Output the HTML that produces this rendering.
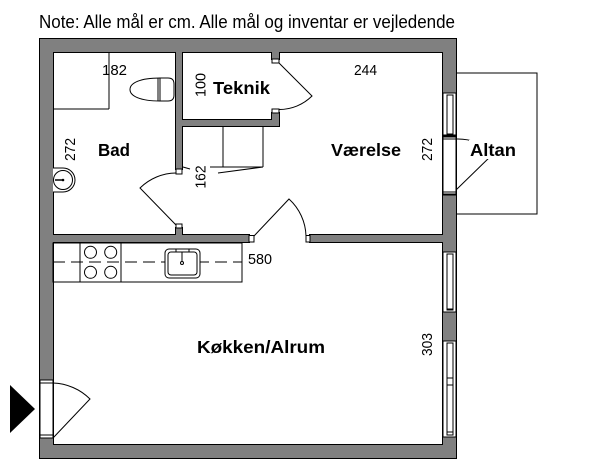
<!DOCTYPE html>
<html>
<head>
<meta charset="utf-8">
<style>
  html, body { margin: 0; padding: 0; background: #fff; }
  body { width: 600px; height: 472px; overflow: hidden; }
  svg { display: block; }
  text { font-family: "Liberation Sans", sans-serif; fill: #000; }
  .b { font-weight: bold; }
</style>
</head>
<body>
<svg width="600" height="472" viewBox="0 0 600 472" xmlns="http://www.w3.org/2000/svg">
  <!-- Title -->
  <text x="39" y="28" font-size="18" textLength="416" lengthAdjust="spacingAndGlyphs">Note: Alle mål er cm. Alle mål og inventar er vejledende</text>

  <!-- Altan rectangle -->
  <rect x="456" y="73" width="81" height="141" fill="none" stroke="#000" stroke-width="1"/>

  <!-- WALLS: stroke layer -->
  <g stroke="#000" stroke-width="2" fill="none">
    <path d="M40,39 H456 V458 H40 Z M53,52 V445 H443 V52 Z"/>
    <rect x="176" y="50" width="6" height="119"/>
    <rect x="176" y="228" width="6" height="10"/>
    <rect x="180" y="120" width="99" height="6"/>
    <rect x="272" y="50" width="7" height="9"/>
    <rect x="272" y="113" width="7" height="13"/>
    <rect x="50" y="235" width="199" height="7"/>
    <rect x="310" y="235" width="136" height="7"/>
  </g>
  <!-- WALLS: fill layer -->
  <g fill="#808080" stroke="none">
    <path fill-rule="evenodd" d="M40,39 H456 V458 H40 Z M53,52 V445 H443 V52 Z"/>
    <rect x="176" y="50" width="6" height="119"/>
    <rect x="176" y="228" width="6" height="10"/>
    <rect x="180" y="120" width="99" height="6"/>
    <rect x="272" y="50" width="7" height="9"/>
    <rect x="272" y="113" width="7" height="13"/>
    <rect x="50" y="235" width="199" height="7"/>
    <rect x="310" y="235" width="136" height="7"/>
  </g>

  <!-- Door jambs -->
  <g fill="#fff" stroke="#000" stroke-width="1">
    <rect x="176" y="169" width="6" height="5"/>
    <rect x="176" y="224" width="6" height="4"/>
    <rect x="272" y="59" width="7" height="4"/>
    <rect x="272" y="109" width="7" height="4"/>
    <rect x="249" y="235.5" width="5" height="6.5"/>
    <rect x="306" y="235.5" width="4" height="6.5"/>
  </g>

  <!-- Right wall: Værelse window -->
  <g stroke="#000" fill="#fff" stroke-width="1">
    <rect x="443" y="93" width="13" height="43"/>
    <rect x="447" y="95" width="6" height="39" fill="none"/>
    <line x1="443" y1="135.5" x2="456" y2="135.5" stroke-width="2"/>
    <!-- Altan door opening -->
    <rect x="443" y="137" width="13" height="57"/>
    <line x1="443" y1="139" x2="456" y2="139"/>
    <line x1="443" y1="192" x2="456" y2="192"/>
    <line x1="443" y1="194.5" x2="456" y2="194.5" stroke-width="2"/>
    <!-- Kitchen window 1 -->
    <rect x="443" y="252" width="13" height="60"/>
    <rect x="447" y="254" width="6" height="56" fill="none"/>
    <line x1="447" y1="309" x2="453" y2="309"/>
    <!-- Kitchen window 2 -->
    <rect x="443" y="341" width="13" height="96"/>
    <rect x="447" y="343" width="6" height="92" fill="none"/>
    <line x1="447" y1="378" x2="453" y2="378"/>
    <line x1="447" y1="385" x2="453" y2="385"/>
    <line x1="447" y1="432" x2="453" y2="432"/>
    <!-- Entrance opening -->
    <rect x="40" y="380" width="13" height="58"/>
    <line x1="40" y1="383" x2="53" y2="383"/>
    <line x1="40" y1="435" x2="53" y2="435"/>
  </g>

  <!-- Doors -->
  <g stroke="#000" fill="none" stroke-width="1">
    <!-- Bad door -->
    <path d="M176,225 L140,188 A52,52 0 0 1 176,173"/>
    <!-- Teknik door -->
    <path d="M279,63 L312,96 A46.5,46.5 0 0 1 279,109.5"/>
    <!-- Værelse door -->
    <path d="M254,236 L289,199 A52,52 0 0 1 306,236"/>
    <!-- Entrance door -->
    <path d="M53,438 L90,399 A55,55 0 0 0 53,383"/>
    <!-- Altan door -->
    <path d="M456,190 L494,153 A53,53 0 0 0 456,139"/>
  </g>

  <!-- Entrance triangle -->
  <polygon points="10,385 10,433 35,409" fill="#000"/>

  <!-- Bad fixtures -->
  <g stroke="#000" fill="none" stroke-width="1">
    <!-- shower -->
    <line x1="109" y1="52" x2="109" y2="109"/>
    <line x1="53" y1="109" x2="109" y2="109"/>
    <!-- toilet -->
    <path d="M160,78 H168 Q174,78 174,84 V95 Q174,101 168,101 H160 C140,101 130,96 130,89.5 C130,83 140,78 160,78 Z"/>
    <line x1="160" y1="78" x2="160" y2="101"/>
    <line x1="158" y1="78.5" x2="158" y2="100.5"/>
    <!-- sink -->
    <path d="M53,168 H63 A12,12 0 0 1 63,192 H53" fill="#fff"/>
    <circle cx="63" cy="180" r="9.5"/>
    <line x1="55" y1="180" x2="63" y2="180" stroke-width="1.5"/>
  </g>
  <circle cx="63" cy="180" r="1.3" fill="#000"/>

  <!-- Closet lines -->
  <g stroke="#000" fill="none" stroke-width="1">
    <line x1="223" y1="126" x2="223" y2="167"/>
    <line x1="263" y1="126" x2="263" y2="167"/>
    <line x1="210" y1="167" x2="263" y2="167"/>
    <line x1="218" y1="173" x2="263" y2="167"/>
    <line x1="183" y1="167" x2="190" y2="169"/>
  </g>

  <!-- Kitchen counter -->
  <g stroke="#000" fill="none" stroke-width="1">
    <rect x="53" y="243" width="189" height="39"/>
    <line x1="80" y1="243" x2="80" y2="282"/>
    <line x1="121" y1="243" x2="121" y2="282"/>
    <line x1="53" y1="262" x2="242" y2="262" stroke-dasharray="12,6"/>
    <circle cx="90.5" cy="252.3" r="6"/>
    <circle cx="110.7" cy="252.3" r="6"/>
    <circle cx="90.5" cy="272.3" r="6"/>
    <circle cx="110.7" cy="272.3" r="6"/>
    <rect x="165" y="249" width="35" height="29" rx="4" fill="#fff"/>
    <rect x="168" y="252" width="29" height="23" rx="3"/>
    <rect x="176" y="249" width="13" height="3"/>
    <line x1="182" y1="252" x2="182" y2="262"/>
    <circle cx="182" cy="263" r="1.5"/>
  </g>

  <!-- Labels -->
  <text x="102" y="75" font-size="15" textLength="25" lengthAdjust="spacingAndGlyphs">182</text>
  <text x="354" y="75" font-size="15" textLength="23" lengthAdjust="spacingAndGlyphs">244</text>
  <text x="248" y="264" font-size="15" textLength="24" lengthAdjust="spacingAndGlyphs">580</text>

  <text class="b" x="213" y="94" font-size="17.5" textLength="57" lengthAdjust="spacingAndGlyphs">Teknik</text>
  <text class="b" x="98" y="156" font-size="17.5" textLength="32" lengthAdjust="spacingAndGlyphs">Bad</text>
  <text class="b" x="331" y="156" font-size="17.5" textLength="70" lengthAdjust="spacingAndGlyphs">Værelse</text>
  <rect x="469" y="140" width="48" height="19" fill="#fff"/>
  <text class="b" x="470" y="156" font-size="17.5" textLength="46" lengthAdjust="spacingAndGlyphs">Altan</text>
  <text class="b" x="197" y="353" font-size="17.5" textLength="128" lengthAdjust="spacingAndGlyphs">Køkken/Alrum</text>

  <!-- Rotated dimensions -->
  <text transform="translate(205.5,85) rotate(-90)" text-anchor="middle" font-size="15" textLength="24" lengthAdjust="spacingAndGlyphs">100</text>
  <text transform="translate(75,149.5) rotate(-90)" text-anchor="middle" font-size="15" textLength="23" lengthAdjust="spacingAndGlyphs">272</text>
  <text transform="translate(432,149.5) rotate(-90)" text-anchor="middle" font-size="15" textLength="23" lengthAdjust="spacingAndGlyphs">272</text>
  <text transform="translate(205.5,177) rotate(-90)" text-anchor="middle" font-size="15" textLength="23" lengthAdjust="spacingAndGlyphs">162</text>
  <text transform="translate(432,344.5) rotate(-90)" text-anchor="middle" font-size="15" textLength="23" lengthAdjust="spacingAndGlyphs">303</text>
</svg>
</body>
</html>
